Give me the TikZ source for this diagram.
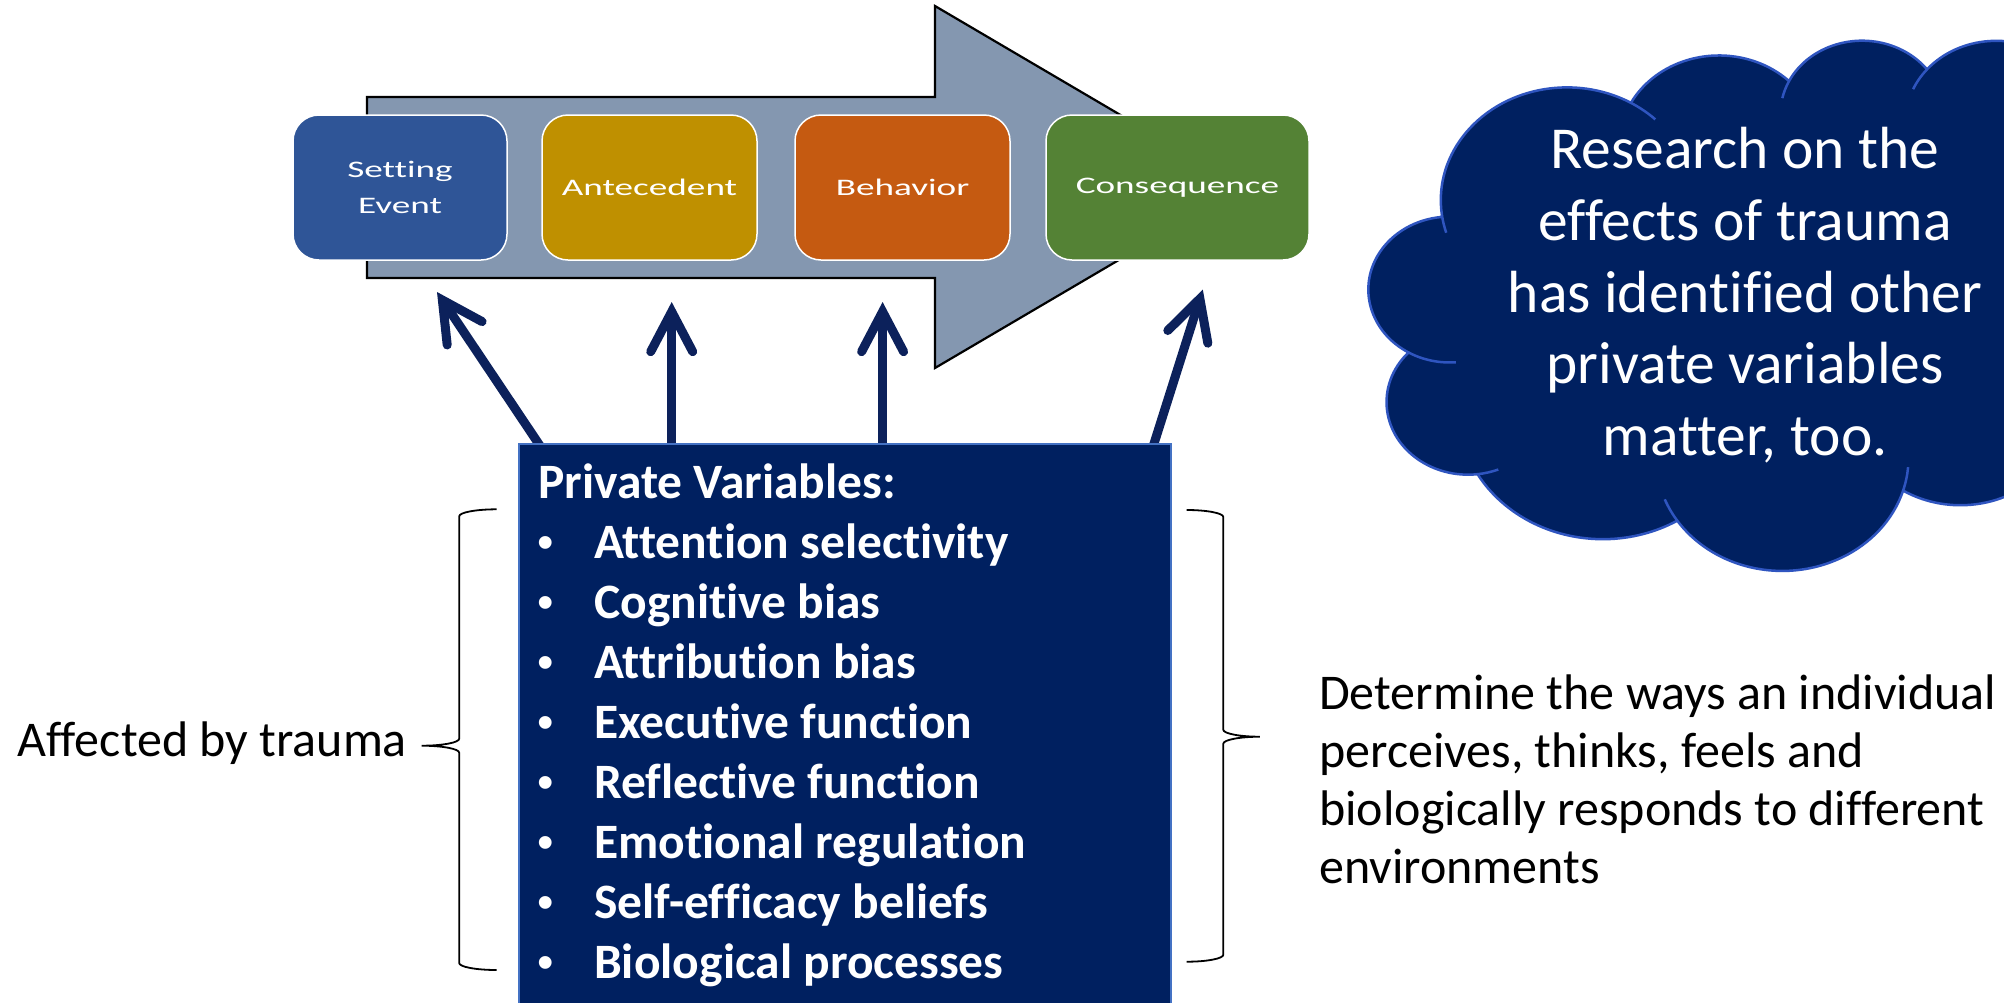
\documentclass[tikz,border=0pt]{standalone}
\usepackage{fontspec}
\setmainfont{Carlito}[Ligatures={NoCommon,NoContextual}]
\newfontfamily\bulletfont{Liberation Sans}
\usepackage{graphicx}
\usetikzlibrary{arrows.meta}
\definecolor{arrowgray}{HTML}{8497B0}
\definecolor{seblue}{HTML}{2F5597}
\definecolor{antgold}{HTML}{BF9000}
\definecolor{behorange}{HTML}{C55A11}
\definecolor{congreen}{HTML}{548235}
\definecolor{navyline}{HTML}{0C215B}
\definecolor{pvnavy}{HTML}{002060}
\definecolor{pvedge}{HTML}{4472C4}
\definecolor{cloudedge}{HTML}{2F55C0}
\newcommand{\stretchtxt}[1]{\scalebox{1.57}[1]{#1}}
\begin{document}
\begin{tikzpicture}[x=1pt,y=-1pt,
  abcbox/.style={draw=white, line width=1.5pt, rounded corners=26pt, minimum width=#1,
    minimum height=145pt, inner sep=0pt, outer sep=0pt, text=white,
    font=\fontsize{23.7}{36}\selectfont, align=center},
  uparrow/.style={draw=navyline, line width=9pt, line cap=round,
    -{Straight Barb[length=40pt,width=42pt,line cap=round,line join=miter]}},
  pvtext/.style={text=white, font=\bfseries\fontsize{49.5}{60}\selectfont, inner sep=0pt, anchor=base west},
  bulletmark/.style={text=white, font=\bulletfont\fontsize{47}{60}\selectfont, inner sep=0pt, anchor=base},
  plaintext/.style={text=black, font=\fontsize{50}{58}\selectfont, inner sep=0pt, anchor=base west},
  cloudtext/.style={text=white, font=\fontsize{59.5}{72}\selectfont, inner sep=0pt, anchor=base},
  bracestyle/.style={draw=black, line width=1.8pt},
  cloudline/.style={draw=cloudedge, line width=2.5pt}
]
\useasboundingbox (0,0) rectangle (2004,1002);
\fill[white] (0,0) rectangle (2004,1002);
\clip (0,0) rectangle (2004,1002);

% big process arrow
\draw[fill=arrowgray, draw=black, line width=2.2pt, line join=miter]
  (367,97) -- (935,97) -- (935,6) -- (1243,187) -- (935,368) -- (935,278) -- (367,278) -- cycle;

% ABC boxes
\node[abcbox=214pt, fill=seblue] (se) at (400,187.5) {\stretchtxt{Setting}\\\stretchtxt{Event}};
\node[abcbox=215pt, fill=antgold] (ant) at (649.5,187.5) {\stretchtxt{Antecedent}};
\node[abcbox=215pt, fill=behorange] (beh) at (902.5,187.5) {\stretchtxt{Behavior}};
\node[abcbox=263pt, fill=congreen] (con) at (1177.5,187.5) {\stretchtxt{Consequence}};

% arrow end points
\coordinate (s1) at (543.7,451.3);
\coordinate (t1) at (437,292);
\coordinate (s2) at (671.7,452);
\coordinate (t2) at (671.7,302);
\coordinate (s3) at (882.6,452);
\coordinate (t3) at (882.6,302);
\coordinate (s4) at (1151.5,451.5);
\coordinate (t4) at (1202.8,289.5);
\draw[uparrow] (s1) -- (t1);
\draw[uparrow] (s2) -- (t2);
\draw[uparrow] (s3) -- (t3);
\draw[uparrow] (s4) -- (t4);

% private variables box
\node[draw=pvedge, line width=2pt, fill=pvnavy, minimum width=652pt, minimum height=570pt,
  anchor=north west, inner sep=0pt, outer sep=0pt] (pv) at (519,443.5) {};
\node[pvtext] (pvtitle) at (538,498) {Private Variables:};
\foreach \txt [count=\i] in {Attention selectivity, Cognitive bias, Attribution bias, Executive function, Reflective function, Emotional regulation, Self-efficacy beliefs, Biological processes} {
  \node[bulletmark] (bu\i) at (546,{498+60*\i}) {•};
  \node[pvtext] (pv\i) at (594,{498+60*\i}) {\txt};
}

% left brace and label
\draw[bracestyle] (496.7,509.3) arc[start angle=90, end angle=180, x radius=37.5pt, y radius=7pt]
  -- (459.2,738.7) arc[start angle=0, end angle=-90, x radius=37.5pt, y radius=7pt]
  arc[start angle=90, end angle=0, x radius=37.5pt, y radius=7pt]
  -- (459.2,963) arc[start angle=180, end angle=270, x radius=37.5pt, y radius=7pt];
\node[plaintext] (aff) at (17,756) {Affected by trauma};

% right brace and text
\draw[bracestyle] (1186.7,510) arc[start angle=90, end angle=0, x radius=36.6pt, y radius=7pt]
  -- (1223.3,729.7) arc[start angle=180, end angle=270, x radius=36.6pt, y radius=7pt]
  arc[start angle=90, end angle=180, x radius=36.6pt, y radius=7pt]
  -- (1223.3,954.7) arc[start angle=0, end angle=-90, x radius=36.6pt, y radius=7pt];
\node[plaintext] (rt1) at (1319,709.5) {Determine the ways an individual};
\node[plaintext] (rt2) at (1319,767.5) {perceives, thinks, feels and};
\node[plaintext] (rt3) at (1319,825.5) {biologically responds to different};
\node[plaintext] (rt4) at (1319,883.5) {environments};

% cloud
\path[cloudline, fill=pvnavy, line join=round] (1441.95,215.31) coordinate (c0)
  arc[start angle=-172.26, end angle=-300.36, x radius=126.31pt, y radius=112.75pt] coordinate (c1)
  arc[start angle=152.06, end angle=45.45, x radius=99.75pt, y radius=89.16pt] coordinate (c2)
  arc[start angle=153.49, end angle=37.35, x radius=81.64pt, y radius=72.94pt] coordinate (c3)
  arc[start angle=139.70, end angle=10.21, x radius=90.85pt, y radius=80.91pt] coordinate (c4)
  arc[start angle=74.77, end angle=-23.21, x radius=99.75pt, y radius=89.23pt] coordinate (c5)
  arc[start angle=37.51, end angle=-81.86, x radius=126.72pt, y radius=113.12pt] coordinate (c6)
  arc[start angle=-0.46, end angle=-121.97, x radius=108.20pt, y radius=96.52pt] coordinate (c7)
  arc[start angle=-16.84, end angle=-146.23, x radius=126.29pt, y radius=113.06pt] coordinate (c8)
  arc[start angle=-58.98, end angle=-150.17, x radius=144.40pt, y radius=129.35pt] coordinate (c9)
  arc[start angle=-83.31, end angle=-223.08, x radius=81.55pt, y radius=72.61pt] coordinate (c10)
  arc[start angle=-120.36, end angle=-264.11, x radius=81.27pt, y radius=72.94pt] -- cycle;
\draw[cloudline] (c1) arc[start angle=59.64, end angle=45.73, x radius=126.31pt, y radius=112.75pt];
\draw[cloudline] (c2) arc[start angle=153.49, end angle=167.73, x radius=81.64pt, y radius=72.94pt];
\draw[cloudline] (c3) arc[start angle=139.70, end angle=156.29, x radius=90.85pt, y radius=80.91pt];
\draw[cloudline] (c0) arc[start angle=-172.26, end angle=-163.19, x radius=126.31pt, y radius=112.75pt];
\draw[cloudline] (c10) arc[start angle=-120.36, end angle=-85.55, x radius=81.27pt, y radius=72.94pt];
\draw[cloudline] (c9) arc[start angle=-83.31, end angle=-68.24, x radius=81.55pt, y radius=72.61pt];
\draw[cloudline] (c8) arc[start angle=-146.23, end angle=-158.47, x radius=126.29pt, y radius=113.06pt];
\draw[cloudline] (c7) arc[start angle=-16.84, end angle=-4.74, x radius=126.29pt, y radius=113.06pt];
\draw[cloudline] (c6) arc[start angle=-0.46, end angle=64.03, x radius=108.20pt, y radius=96.52pt];

\node[cloudtext] (cl1) at (1745,168) {Research on the};
\node[cloudtext] (cl2) at (1745,240) {effects of trauma};
\node[cloudtext] (cl3) at (1745,312) {has identified other};
\node[cloudtext] (cl4) at (1745,383.5) {private variables};
\node[cloudtext] (cl5) at (1745,455) {matter, too.};
\end{tikzpicture}
\end{document}
